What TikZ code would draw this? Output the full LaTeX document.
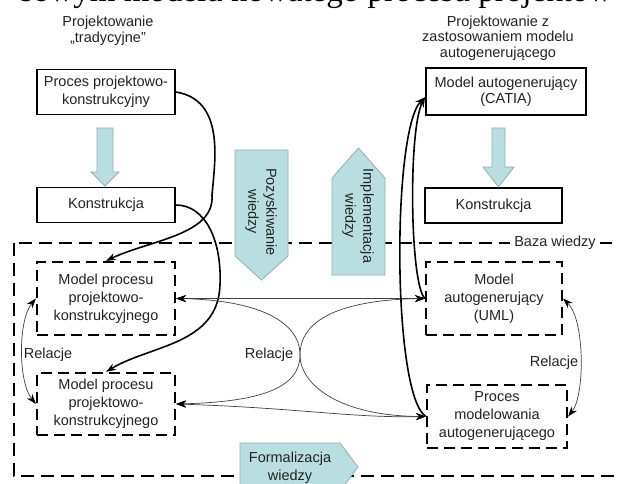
\documentclass[tikz,border=0pt]{standalone}
\usepackage{fontspec}
\setmainfont{Liberation Sans}
\newfontfamily\serifhead{Liberation Serif}
\usetikzlibrary{arrows.meta}
\definecolor{txt}{RGB}{35,35,35}
\definecolor{flowfill}{RGB}{184,222,226}
\definecolor{flowedge}{RGB}{150,172,178}
\tikzset{
  lbl/.style={text=txt, font=\fontsize{14.5}{18}\selectfont, align=center, inner sep=0pt},
  hdr/.style={lbl, font=\fontsize{14.5}{15.5}\selectfont},
  solidbox/.style={lbl, draw=black, line width=1.8pt},
  dashbox/.style={lbl, draw=black, line width=2.2pt, dash pattern=on 11pt off 6pt},
  flowarrow/.style={fill=flowfill, draw=flowedge, line width=0.8pt},
  flowtext/.style={lbl, rotate=-90},
  thick link/.style={line width=1.6pt, -{Stealth[length=10pt,width=7pt]}},
  thin link/.style={line width=0.7pt, draw=black!75, {Stealth[length=10pt,width=7pt,color=black]}-{Stealth[length=10pt,width=7pt,color=black]}}
}
\begin{document}
\begin{tikzpicture}[x=1pt, y=-1pt]
\useasboundingbox (0,0) rectangle (618,484);
\clip (0,0) rectangle (618,484);
\fill[white] (0,0) rectangle (618,484);

% caption line running off the top edge: only its lowest part shows
\node[anchor=base west, inner sep=0pt, font=\serifhead\fontsize{33}{33}\selectfont] (caption) at (20,2) {sowym modelu nowatego procesu projektow};

% column headings
\node[hdr] (hdL) at (108,31) {Projektowanie\\„tradycyjne”};
\node[hdr] (hdR) at (498,38) {Projektowanie z\\zastosowaniem modelu\\autogenerującego};

% knowledge base frame
\draw[line width=2pt, dash pattern=on 13pt off 7pt] (14,243) rectangle (660,476);
\node[lbl, fill=white, inner xsep=4pt, inner ysep=2pt] (baza) at (555,243) {Baza wiedzy};

% design boxes
\node[solidbox, minimum width=138pt, minimum height=45pt] (ppk) at (106,92) {Proces projektowo-\\konstrukcyjny};
\node[solidbox, minimum width=138pt, minimum height=35pt] (konL) at (106,205) {Konstrukcja};
\node[solidbox, minimum width=160pt, minimum height=47pt, font=\fontsize{14.5}{16}\selectfont] (catia) at (506,91.5) {Model autogenerujący\\(CATIA)};
\node[solidbox, minimum width=137pt, minimum height=35pt] (konR) at (493.5,205.5) {Konstrukcja};

% models inside the knowledge base
\node[dashbox, minimum width=138pt, minimum height=73pt] (m1) at (106,298.5) {Model procesu\\projektowo-\\konstrukcyjnego};
\node[dashbox, minimum width=138pt, minimum height=62pt] (m2) at (106,404) {Model procesu\\projektowo-\\konstrukcyjnego};
\node[dashbox, minimum width=136pt, minimum height=73pt] (uml) at (494,298.5) {Model\\autogenerujący\\(UML)};
\node[dashbox, minimum width=140pt, minimum height=63pt] (pm) at (497,416.5) {Proces\\modelowania\\autogenerującego};

% block arrows
\draw[flowarrow] (97,128) -- (113,128) -- (113,172) -- (119,172) -- (105,186) -- (91,172) -- (97,172) -- cycle;
\draw[flowarrow] (492,128) -- (505,128) -- (505,167) -- (514,167) -- (498.5,187) -- (483,167) -- (492,167) -- cycle;
\draw[flowarrow] (235,150) -- (288,150) -- (288,256) -- (261.5,280) -- (235,256) -- cycle;
\node[flowtext] (pozysk) at (261,212) {Pozyskiwanie\\wiedzy};
\draw[flowarrow] (332,275) -- (332,178) -- (358.5,148) -- (385,178) -- (385,275) -- cycle;
\node[flowtext] (implem) at (358,216) {Implementacja\\wiedzy};
\draw[flowarrow] (240,443) -- (340,443) -- (358,467) -- (340,491) -- (240,491) -- cycle;
\node[lbl] (formal) at (290,468) {Formalizacja\\wiedzy};

% relation labels
\node[lbl] (relL) at (48,355) {Relacje};
\node[lbl] (relM) at (269,355) {Relacje};
\node[lbl] (relR) at (554,363) {Relacje};

% knowledge acquisition links
\draw[thick link] (ppk.east) .. controls (225,100) and (215,160) .. (212,195) .. controls (215,235) and (150,240) .. (m1.north);
\draw[thick link] (konL.east) .. controls (205,205) and (222,240) .. (220,285) .. controls (218,345) and (150,345) .. (m2.north);

% relations between the models
\draw[thin link] (m1.east) -- (uml.west);
\draw[thin link] (m1.east) .. controls (255,300) and (300,320) .. (300,355) .. controls (300,385) and (340,416) .. (pm.west);
\draw[thin link] (m2.east) .. controls (255,402) and (300,390) .. (300,355) .. controls (300,320) and (340,300) .. (uml.west);
\draw[thin link] (m2.east) .. controls (300,408) and (350,418) .. (pm.west);
\draw[thin link] (m1.west) .. controls (18,320) and (18,382) .. (m2.west);
\draw[thin link] (uml.east) .. controls (585,320) and (585,395) .. (pm.east);

% knowledge implementation links
\draw[thick link] (pm.west) .. controls (392,395) and (392,130) .. (catia.184);
\draw[thick link] (uml.west) .. controls (410,285) and (408,130) .. (catia.184);
\end{tikzpicture}
\end{document}
